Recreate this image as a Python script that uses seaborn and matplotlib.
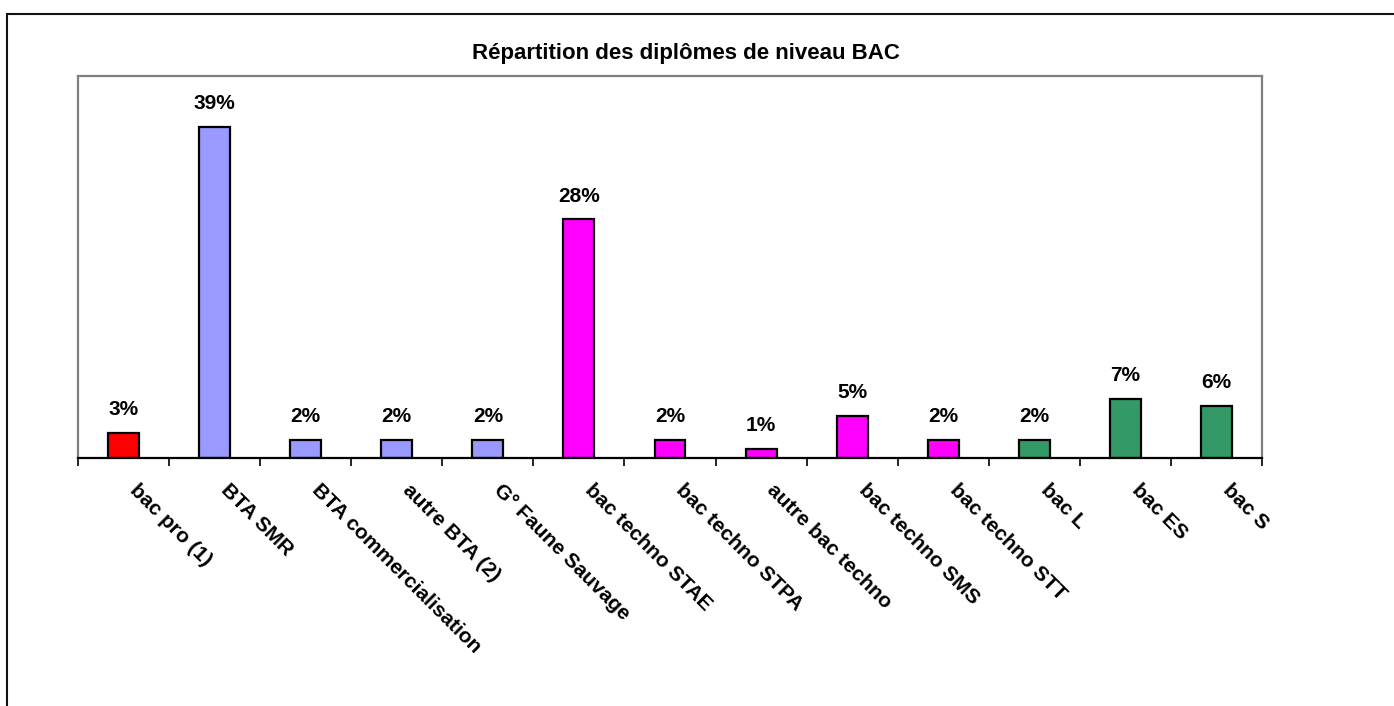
import numpy as np
import pandas as pd
import seaborn as sns
import matplotlib.pyplot as plt
from matplotlib.patches import Rectangle
import matplotlib.transforms as mtransforms

# Data
diplomes = ['bac pro (1)', 'BTA SMR', 'BTA commercialisation', 'autre BTA (2)',
            'G° Faune Sauvage', 'bac techno STAE', 'bac techno STPA',
            'autre bac techno', 'bac techno SMS', 'bac techno STT',
            'bac L', 'bac ES', 'bac S']
pourcentages = [3.0, 39.0, 2.1, 2.1, 2.1, 28.1, 2.1, 1.1, 5.0, 2.1, 2.1, 7.0, 6.1]
groupes = ['pro', 'BTA', 'BTA', 'BTA', 'BTA', 'techno', 'techno', 'techno',
           'techno', 'techno', 'general', 'general', 'general']
couleurs = {'pro': '#FF0000', 'BTA': '#9999FF', 'techno': '#FF00FF', 'general': '#339966'}

df = pd.DataFrame({'Diplome': diplomes, 'Pct': pourcentages, 'Groupe': groupes})

sns.set_style('white')
plt.rcParams['font.family'] = ['Liberation Sans', 'DejaVu Sans']
plt.rcParams['font.weight'] = 'bold'
plt.rcParams['text.color'] = 'black'
plt.rcParams['xtick.color'] = 'black'

fig = plt.figure(figsize=(13.94, 7.06), dpi=100)
W, H = 1394, 706
ax = fig.add_axes([78 / W, 1 - 458 / H, (1262 - 78) / W, (458 - 76) / H])

sns.barplot(data=df, x='Diplome', y='Pct', hue='Groupe', palette=couleurs,
            dodge=False, width=0.34, edgecolor='black', linewidth=1.6,
            saturation=1, legend=False, ax=ax)

for c in ax.containers:
    ax.bar_label(c, fmt='{:.0f}%', padding=10, fontsize=15, fontweight='bold',
                 color='black')

ax.set_xlim(-0.5, len(diplomes) - 0.5)
ax.set_ylim(0, 45)
ax.set_xlabel('')
ax.set_ylabel('')
ax.set_yticks([])

# category labels at centres, tick marks at the boundaries
ax.set_xticks(np.arange(len(diplomes)))
ax.set_xticklabels(diplomes, rotation=-45, ha='left', va='top',
                   rotation_mode='anchor', fontsize=15, fontweight='bold',
                   color='black')
ax.set_xticks(np.arange(len(diplomes) + 1) - 0.5, minor=True)
ax.tick_params(axis='x', which='major', length=0, pad=16)
ax.tick_params(axis='x', which='minor', length=6, width=1.2, color='black',
               direction='out', bottom=True)
offset = mtransforms.ScaledTranslation(16 / 100, 0, fig.dpi_scale_trans)
for lab in ax.get_xticklabels():
    lab.set_transform(lab.get_transform() + offset)

for s in ['left', 'top', 'right']:
    ax.spines[s].set_color('#808080')
    ax.spines[s].set_linewidth(1.6)
ax.spines['bottom'].set_color('black')
ax.spines['bottom'].set_linewidth(1.6)

fig.text(686 / W, 1 - 53 / H, 'Répartition des diplômes de niveau BAC',
         ha='center', va='center', fontsize=16, fontweight='bold', color='black')

# outer chart border
fig.patches.append(Rectangle((7 / W, -0.1), 1.2, 1.1 - 14 / H, transform=fig.transFigure,
                             fill=False, edgecolor='#111111', linewidth=1.5))

fig.savefig('out.png', dpi=100)
